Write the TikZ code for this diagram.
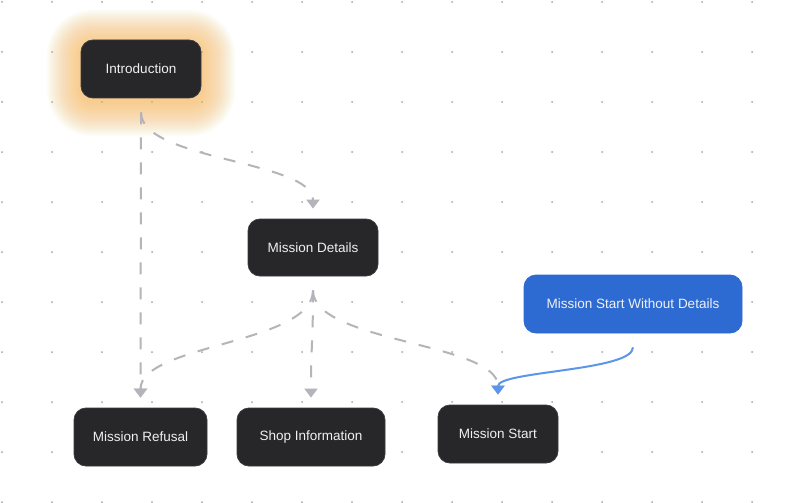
\documentclass[tikz,border=0pt]{standalone}
\usepackage{fontspec}
\setmainfont{Liberation Sans}
\usetikzlibrary{calc,arrows.meta,backgrounds}
\definecolor{scenebg}{HTML}{27272A}
\definecolor{sceneedge}{HTML}{3A3A3F}
\definecolor{startblue}{HTML}{2D6BD3}
\definecolor{linkblue}{HTML}{5C95EA}
\definecolor{linkgray}{HTML}{B4B4BA}
\definecolor{griddot}{HTML}{A5A5A5}
\definecolor{glowc}{HTML}{F8BC5E}
\def\flowedge[#1](#2)(#3){\draw[#1] let \p1=($(#2)+(0,14)$), \p2=($(#3)+(0,-10)$), \p3=($(\p1)!0.5!(\p2)$) in (\p1) .. controls (\x1,\y3) and (\x2,\y3) .. (\p2);}

\begin{document}
\begin{tikzpicture}[x=1pt, y=-1pt,
	scene/.style={rounded corners=12pt, fill=scenebg, draw=sceneedge, line width=0.8pt, text=white!94!black, inner sep=0pt, minimum height=58pt, font=\fontsize{13.5}{16}\selectfont},
	link/.style={line width=2pt, color=linkgray, dash pattern=on 12pt off 13pt, -{Triangle[length=9pt,width=13pt]}},
	bluelink/.style={line width=2pt, color=linkblue, -{Triangle[length=9pt,width=13pt]}}]
			%%%%% START %%%%%
			
			\useasboundingbox (0, 0) rectangle (801, 503);
			
			\node[scene, minimum width=120pt] (intro) at (141, 69) {Introduction};
			\node[scene, minimum width=130pt, minimum height=57pt] (details) at (313, 247.5) {Mission Details};
			\node[scene, minimum width=218pt, fill=startblue, draw=startblue] (nodetails) at (633, 304) {Mission Start Without Details};
			\node[scene, minimum width=120pt] (start) at (498, 434) {Mission Start};
			\node[scene, minimum width=133pt] (refusal) at (140.5, 437) {Mission Refusal};
			\node[scene, minimum width=148pt] (shop) at (311, 437) {Shop Information};
			
			\begin{scope}[on background layer]
				\fill[white] (0, 0) rectangle (801, 503);
				\foreach \i in {0,...,16}
					\foreach \j in {0,...,10}
						\fill[griddot] (2+50*\i, 2+50*\j) circle (1);
				
				\foreach \g in {34,33,...,1}
					\fill[glowc, opacity=0.028, rounded corners=12+\g] ($(intro.north west)+(-\g,-\g+4)$) rectangle ($(intro.south east)+(\g,\g+4)$);
			\end{scope}
			
			\flowedge[link](intro.south)(refusal.north)
			\flowedge[link](intro.south)(details.north)
			\flowedge[link](details.south)(refusal.north)
			\flowedge[link](details.south)(shop.north)
			\flowedge[link](details.south)(start.north)
			\flowedge[bluelink](nodetails.south)(start.north)
			
			%%%%% END %%%%%
		\end{tikzpicture}
\end{document}
